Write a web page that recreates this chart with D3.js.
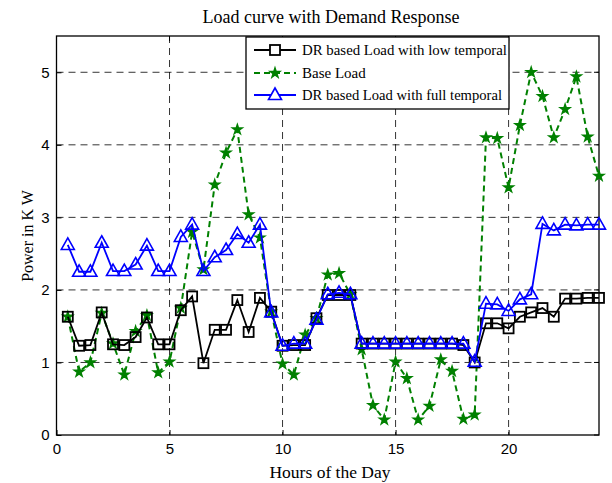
<!DOCTYPE html>
<html><head><meta charset="utf-8">
<script src="https://cdn.jsdelivr.net/npm/d3@7"></script>
<style>body{margin:0;background:#fff}svg{display:block}</style>
</head><body><svg id="c" width="612" height="483"></svg>
<script>
const hours = d3.range(1, 49).map(i => i / 2);
const lowTemporal = [1.63,1.23,1.24,1.69,1.25,1.24,1.35,1.62,1.25,1.25,1.72,1.91,0.99,1.45,1.45,1.86,1.42,1.89,1.70,1.23,
  1.24,1.24,1.61,1.93,1.93,1.93,1.26,1.26,1.26,1.26,1.26,1.26,1.26,1.26,1.26,1.24,1.00,1.54,1.54,1.47,1.63,1.69,1.75,1.63,1.88,1.88,1.89,1.89];
const baseLoad = [1.63,0.87,1.00,1.68,1.26,0.83,1.43,1.65,0.86,1.01,1.75,2.80,2.28,3.45,3.89,4.21,3.04,2.72,1.70,0.98,
  0.83,1.38,1.61,2.21,2.23,1.94,1.18,0.41,0.21,1.01,0.78,0.21,0.40,1.04,0.88,0.22,0.28,4.10,4.09,3.41,4.27,5.00,4.67,4.10,4.49,4.94,4.11,3.57];
const fullTemporal = [2.62,2.25,2.25,2.65,2.26,2.26,2.35,2.61,2.26,2.26,2.73,2.90,2.26,2.45,2.55,2.77,2.65,2.90,1.69,1.23,
  1.26,1.26,1.59,1.94,1.96,1.94,1.26,1.26,1.26,1.26,1.26,1.26,1.26,1.26,1.26,1.26,1.01,1.81,1.80,1.71,1.87,1.94,2.91,2.82,2.90,2.89,2.90,2.90];
const xTicks = [0,5,10,15,20];
const yTicks = [0,1,2,3,4,5];
const seriesNames = ["DR based Load with low temporal","Base Load","DR based Load with full temporal"];

const svg = d3.select("#c");
const L = 56.5, R = 599, T = 36, B = 435;
const x = d3.scaleLinear().domain([0,24]).range([L,R]);
const y = d3.scaleLinear().domain([0,5.5]).range([B,T]);
const serif = "Liberation Serif, Times New Roman, serif";

// grid
const g = svg.append("g");
g.selectAll(".gx").data(xTicks.filter(d=>d>0)).join("line")
  .attr("x1",d=>x(d)).attr("x2",d=>x(d)).attr("y1",T).attr("y2",B)
  .attr("stroke","#000").attr("stroke-width",0.8).attr("stroke-dasharray","7,5");
g.selectAll(".gy").data(yTicks.filter(d=>d>0)).join("line")
  .attr("y1",d=>y(d)).attr("y2",d=>y(d)).attr("x1",L).attr("x2",R)
  .attr("stroke","#000").attr("stroke-width",0.8).attr("stroke-dasharray","7,5");

// axes
const xa = svg.append("g").attr("transform",`translate(0,${B})`)
  .call(d3.axisBottom(x).tickValues(xTicks).tickSize(-5).tickPadding(8).tickFormat(d3.format("d")));
const ya = svg.append("g").attr("transform",`translate(${L},0)`)
  .call(d3.axisLeft(y).tickValues(yTicks).tickSize(-5).tickPadding(7).tickFormat(d3.format("d")));
[xa,ya].forEach(a=>{
  a.select(".domain").remove();
  a.selectAll("text").attr("font-family","Liberation Sans, Arial, sans-serif").attr("font-size",15).attr("fill","#000");
  a.selectAll("line").attr("stroke","#000");
});
svg.append("g").selectAll("line").data(xTicks).join("line")
  .attr("x1",d=>x(d)).attr("x2",d=>x(d)).attr("y1",T).attr("y2",T+5).attr("stroke","#000");
svg.append("g").selectAll("line").data(yTicks).join("line")
  .attr("y1",d=>y(d)).attr("y2",d=>y(d)).attr("x1",R).attr("x2",R-5).attr("stroke","#000");
svg.append("rect").attr("x",L).attr("y",T).attr("width",R-L).attr("height",B-T)
  .attr("fill","none").attr("stroke","#000").attr("stroke-width",1.3);

const line = d3.line().x((d,i)=>x(hours[i])).y(d=>y(d));

// Base load (green dashed)
svg.append("path").datum(baseLoad).attr("d",line).attr("fill","none")
  .attr("stroke","#008000").attr("stroke-width",2).attr("stroke-dasharray","6,4");
const star = d3.symbol().type(d3.symbolStar).size(28);
svg.append("g").selectAll("path").data(baseLoad).join("path")
  .attr("d",star).attr("transform",(d,i)=>`translate(${x(hours[i])},${y(d)})`)
  .attr("fill","#008000").attr("stroke","#008000").attr("stroke-width",1.5);

// Low temporal (black squares)
svg.append("path").datum(lowTemporal).attr("d",line).attr("fill","none")
  .attr("stroke","#000").attr("stroke-width",1.8);
svg.append("g").selectAll("rect").data(lowTemporal).join("rect")
  .attr("x",(d,i)=>x(hours[i])-5).attr("y",d=>y(d)-5).attr("width",10).attr("height",10)
  .attr("fill","none").attr("stroke","#000").attr("stroke-width",1.8);

// Full temporal (blue triangles)
svg.append("path").datum(fullTemporal).attr("d",line).attr("fill","none")
  .attr("stroke","#0000ff").attr("stroke-width",1.8);
const tri = "M0,-7L6.5,4.5L-6.5,4.5Z";
svg.append("g").selectAll("path").data(fullTemporal).join("path")
  .attr("d",tri).attr("transform",(d,i)=>`translate(${x(hours[i])},${y(d)})`)
  .attr("fill","none").attr("stroke","#0000ff").attr("stroke-width",1.6);

// legend
const lg = svg.append("g");
lg.append("rect").attr("x",246).attr("y",37).attr("width",263).attr("height",72)
  .attr("fill","#fff").attr("stroke","#000").attr("stroke-width",1.3);
const ly = [50, 73, 95];
const colors = ["#000","#008000","#0000ff"];
seriesNames.forEach((n,i)=>{
  lg.append("line").attr("x1",254).attr("x2",296).attr("y1",ly[i]).attr("y2",ly[i])
    .attr("stroke",colors[i]).attr("stroke-width",i===1?2:1.8).attr("stroke-dasharray",i===1?"6,4":null);
  if(i===0) lg.append("rect").attr("x",270).attr("y",ly[i]-5).attr("width",10).attr("height",10)
    .attr("fill","#fff").attr("stroke","#000").attr("stroke-width",1.8);
  if(i===1) lg.append("path").attr("d",star).attr("transform",`translate(275,${ly[i]})`)
    .attr("fill","#008000").attr("stroke","#008000").attr("stroke-width",1.5);
  if(i===2) lg.append("path").attr("d",tri).attr("transform",`translate(275,${ly[i]})`)
    .attr("fill","#fff").attr("stroke","#0000ff").attr("stroke-width",1.6);
  lg.append("text").attr("x",302).attr("y",ly[i]+5).text(n)
    .attr("font-family",serif).attr("font-size",15).attr("textLength", i===0?205:(i===2?200:null))
    .attr("lengthAdjust","spacingAndGlyphs");
});
lg.selectAll("text").filter(function(){return this.getAttribute("textLength")===null||this.getAttribute("textLength")==="null";}).attr("textLength",null);

// titles
svg.append("text").attr("x",331).attr("y",23).attr("text-anchor","middle")
  .attr("font-family",serif).attr("font-size",18)
  .text("Load curve with Demand Response");
svg.append("text").attr("x",330).attr("y",478).attr("text-anchor","middle")
  .attr("font-family",serif).attr("font-size",17.5)
  .text("Hours of the Day");
svg.append("text").attr("transform","translate(33,236) rotate(-90)").attr("text-anchor","middle")
  .attr("font-family",serif).attr("font-size",16)
  .text("Power in K W");
</script></body></html>
